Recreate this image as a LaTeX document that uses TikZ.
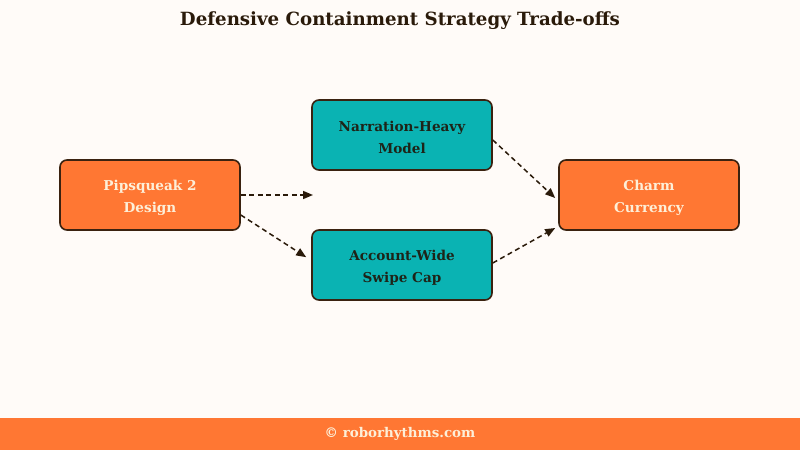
\documentclass[tikz,border=0pt]{standalone}
\usepackage{fontspec}
\setmainfont{DejaVu Serif}
\usetikzlibrary{arrows.meta}
\definecolor{bg}{HTML}{FFFBF8}
\definecolor{orng}{HTML}{FF7733}
\definecolor{teal}{HTML}{0AB3B3}
\definecolor{edge}{HTML}{3A2210}
\definecolor{cream}{HTML}{FDEFD8}
\definecolor{darktxt}{HTML}{1E2418}
\definecolor{titletxt}{HTML}{2A1A0A}
\newcommand{\topstrut}{\rule{0pt}{16pt}}
\tikzset{
  box/.style={draw=edge, line width=1.6pt, rounded corners=7pt, minimum width=180pt, minimum height=70pt, align=center, font=\bfseries\fontsize{13.6}{22}\selectfont, inner sep=0pt},
  obox/.style={box, fill=orng, text=cream},
  tbox/.style={box, fill=teal, text=darktxt},
  conn/.style={draw=titletxt, line width=1.5pt, dash pattern=on 5pt off 3.5pt, -{Triangle[length=10pt,width=8pt]}}
}
\begin{document}
\begin{tikzpicture}[x=1pt,y=-1pt]
\useasboundingbox (0,0) rectangle (800,450);
\fill[bg] (0,0) rectangle (800,450);
\fill[orng] (0,418) rectangle (800,450);
\node[font=\bfseries\fontsize{18.2}{22}\selectfont, text=titletxt] (title) at (400,21) {Defensive Containment Strategy Trade-offs};
\node[font=\bfseries\fontsize{13.4}{16}\selectfont, text=cream] (foot) at (400,434) {© roborhythms.com};
\node[obox] (pip) at (150,195) {\topstrut Pipsqueak 2\\Design};
\node[tbox] (nar) at (402,135) {\topstrut Narration-Heavy\\Model};
\node[tbox] (acc) at (402,265) {\topstrut Account-Wide\\Swipe Cap};
\node[obox] (charm) at (649,195) {\topstrut Charm\\Currency};
\coordinate (gap) at (313,195);
\draw[conn] (pip.east) -- (gap);
\draw[conn] ([yshift=-20pt]pip.east) -- ([xshift=-5pt,yshift=-28pt]acc.north west);
\draw[conn] ([yshift=-5pt]nar.east) -- ([xshift=-3pt,yshift=-3pt]charm.west);
\draw[conn] ([yshift=2pt]acc.east) -- ([xshift=-3pt,yshift=-33pt]charm.west);
\end{tikzpicture}
\end{document}
